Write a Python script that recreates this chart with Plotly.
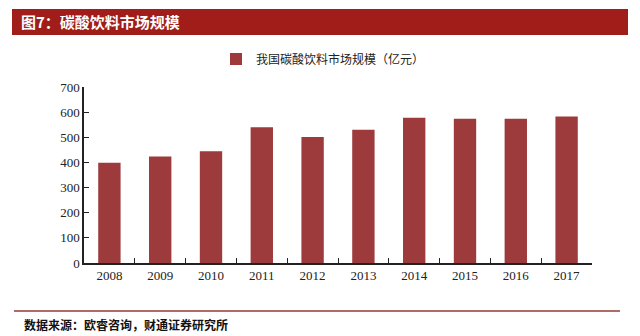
import plotly.graph_objects as go

# Carbonated soft drink market size in China (100 million yuan)
years = ["2008", "2009", "2010", "2011", "2012", "2013", "2014", "2015", "2016", "2017"]
market_size = [399, 424, 444, 540, 501, 530, 578, 574, 574, 583]
series_name = "我国碳酸饮料市场规模（亿元）"
y_ticks = [0, 100, 200, 300, 400, 500, 600, 700]

W, H = 640, 336
L, R, T, B = 84, 48, 87, 73
PW, PH = W - L - R, H - T - B


def px_x(x):
    return (x - L) / PW


def px_y(y):
    return (H - B - y) / PH


bar_color = "#9c3a3c"
serif = "Liberation Serif, Times New Roman, serif"
cjk = "Noto Sans CJK SC, sans-serif"

fig = go.Figure(
    go.Bar(
        x=years,
        y=market_size,
        name=series_name,
        marker=dict(color=bar_color, line=dict(width=0)),
        width=0.44,
        showlegend=True,
    )
)

fig.update_layout(
    width=W,
    height=H,
    margin=dict(l=L, r=R, t=T, b=B),
    paper_bgcolor="white",
    plot_bgcolor="white",
    bargap=0.56,
    legend=dict(
        x=px_x(216),
        y=px_y(59),
        xanchor="left",
        yanchor="middle",
        font=dict(family=cjk, size=12, color="#222"),
        bgcolor="rgba(0,0,0,0)",
        itemwidth=30,
    ),
    xaxis=dict(
        type="category",
        showline=True,
        linecolor="#222",
        linewidth=1.5,
        ticks="inside",
        tickson="boundaries",
        ticklen=5,
        tickcolor="#222",
        tickfont=dict(family=serif, size=13, color="#222"),
        showgrid=False,
        fixedrange=True,
    ),
    yaxis=dict(
        range=[0, 700],
        tickvals=y_ticks,
        showline=True,
        linecolor="#222",
        linewidth=1.5,
        ticks="inside",
        ticklen=5,
        tickcolor="#222",
        tickfont=dict(family=serif, size=13, color="#222"),
        showgrid=False,
        zeroline=False,
        fixedrange=True,
    ),
    shapes=[
        # title banner
        dict(
            type="rect", xref="paper", yref="paper",
            x0=px_x(12), x1=px_x(628), y0=px_y(35), y1=px_y(9),
            fillcolor="#a01d1a", line=dict(width=0), layer="below",
        ),
        # footer rule
        dict(
            type="line", xref="paper", yref="paper",
            x0=px_x(14), x1=px_x(620), y0=px_y(311), y1=px_y(311),
            line=dict(color="#b06a68", width=2),
        ),
    ],
    annotations=[
        dict(
            text="<b>图7：碳酸饮料市场规模</b>",
            xref="paper", yref="paper",
            x=px_x(19), y=px_y(22), xanchor="left", yanchor="middle",
            showarrow=False,
            font=dict(family=cjk, size=15, color="white"),
        ),
        dict(
            text="<b>数据来源：欧睿咨询，财通证券研究所</b>",
            xref="paper", yref="paper",
            x=px_x(22), y=px_y(324), xanchor="left", yanchor="middle",
            showarrow=False,
            font=dict(family=cjk, size=12, color="#111"),
        ),
    ],
)

fig.write_html("out.html")
